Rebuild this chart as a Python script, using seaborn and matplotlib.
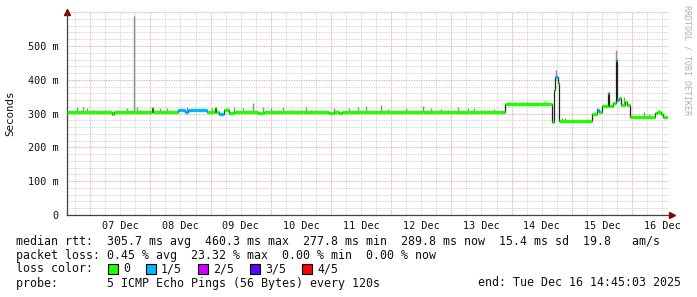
import numpy as np
import pandas as pd
import matplotlib
matplotlib.use("Agg")
import matplotlib.pyplot as plt
import matplotlib.dates as mdates
from matplotlib.ticker import MultipleLocator, FuncFormatter, NullFormatter
from matplotlib.patches import Rectangle
import seaborn as sns

# ---------------- data ----------------
start_time = "2025-12-06 14:45:03"
end_time = "2025-12-16 14:45:03"

# median rtt step breakpoints: hours since start, value in ms, loss colour index
median_hours = [0.0, 18.0, 18.8, 34.0, 34.4, 44.4, 47.2, 48.4, 56.0, 59.2, 59.6, 60.4,
                62.4, 64.4, 66.4, 76.0, 78.4, 104.4, 106.4, 108.4, 109.6, 174.5,
                193.2, 194.0, 194.4, 195.6, 196.2, 209.2, 211.2, 212.0, 213.2, 215.6,
                216.2, 217.6, 218.8, 219.4, 220.0, 220.8, 222.4, 223.2, 224.4, 234.4,
                235.2, 236.8, 237.6, 239.2]
median_ms = [304, 298, 304, 318, 304, 310, 306, 311, 304, 318, 304, 298,
             312, 301, 304, 302, 304, 301, 304, 301, 304, 328,
             276, 370, 409, 390, 278, 300, 312, 305, 322, 360,
             322, 330, 458, 340, 345, 325, 335, 325, 290, 302,
             306, 300, 289, 289]
loss_idx = [0, 0, 0, 0, 0, 1, 1, 1, 0, 0, 0, 1,
            0, 0, 0, 0, 0, 0, 0, 0, 0, 0,
            0, 0, 1, 0, 0, 0, 1, 0, 0, 0,
            0, 0, 0, 1, 0, 0, 0, 0, 0, 0,
            0, 0, 0, 0]

# smoke (max of pings) spikes: hours since start, top value in ms
smoke_hours = [4.0, 6.4, 8.0, 10.4, 12.4, 15.2, 24.0, 26.8, 28.0, 29.2, 36.0, 37.2, 40.0,
               48.0, 49.2, 58.0, 64.0, 66.4, 70.0, 74.0, 78.0, 81.2, 86.0, 89.2, 95.2,
               97.2, 106.4, 112.4, 116.0, 119.2, 125.2, 128.0, 135.2, 142.0, 145.2, 149.2,
               152.0, 156.0, 160.0, 162.4, 166.4, 170.4, 176.4, 178.4, 181.2, 183.2, 184.4,
               190.4, 194.8, 197.2, 198.4, 211.2, 216.0, 218.8, 222.0, 230.0, 232.0, 236.0]
smoke_ms = [319, 319, 316, 310, 309, 312, 316, 590, 320, 310, 312, 316, 316,
            319, 312, 316, 316, 319, 316, 331, 319, 316, 320, 312, 319,
            312, 316, 316, 320, 322, 325, 313, 316, 322, 316, 313,
            312, 319, 316, 316, 312, 313, 335, 335, 333, 335, 332,
            337, 429, 287, 287, 317, 362, 488, 350, 304, 300, 310]

loss_labels = ["0", "1/5", "2/5", "3/5", "4/5"]
loss_colors = ["#20ff00", "#00b8ff", "#d000ff", "#5e00ff", "#ff0000"]

stats_line1 = "median rtt:  305.7 ms avg  460.3 ms max  277.8 ms min  289.8 ms now  15.4 ms sd  19.8   am/s"
stats_line2 = "packet loss: 0.45 % avg  23.32 % max  0.00 % min  0.00 % now"
probe_line = "probe:       5 ICMP Echo Pings (56 Bytes) every 120s"
end_line = "end: Tue Dec 16 14:45:03 2025"

# ---------------- figure ----------------
sns.set_style("white")
plt.rcParams["font.family"] = ["DejaVu Sans Mono", "DejaVu Sans"]

W, H = 697, 297
fig = plt.figure(figsize=(W / 100, H / 100), dpi=100)
ax = fig.add_axes([67 / W, 1 - 215 / H, (669 - 67) / W, (215 - 12.2) / H])

t0 = pd.Timestamp(start_time)
t_end = pd.Timestamp(end_time)
med_t = t0 + pd.to_timedelta(median_hours, unit="h")
med_v = np.array(median_ms) / 1000.0
df = pd.DataFrame({"time": med_t, "rtt": med_v})

# smoke
sm_t = t0 + pd.to_timedelta(smoke_hours, unit="h")
idx = np.searchsorted(np.array(median_hours), np.array(smoke_hours), side="right") - 1
base = med_v[idx]
ax.vlines(sm_t, base, np.array(smoke_ms) / 1000.0, color="#8c8c8c", lw=1.0, zorder=2)

# thin dark median step line
sns.lineplot(data=df, x="time", y="rtt", estimator=None, drawstyle="steps-post",
             color="#202020", lw=0.9, ax=ax, zorder=3)
# coloured median segments by loss
for i in range(len(med_t) - 1):
    ax.hlines(med_v[i], med_t[i], med_t[i + 1], color=loss_colors[loss_idx[i]],
              lw=2.4, zorder=4)

ax.set_xlim(t0, t_end)
ax.set_ylim(0, 0.6)

# grid & ticks
ax.xaxis.set_major_locator(mdates.DayLocator())
ax.xaxis.set_major_formatter(NullFormatter())
ax.xaxis.set_minor_locator(mdates.HourLocator(byhour=[0, 6, 12, 18]))


def xfmt(x, pos):
    d = mdates.num2date(x)
    return d.strftime("%d %b") if d.hour == 12 else ""


def yfmt(v, pos):
    if abs(v) < 1e-9:
        return "0"
    if v > 0.55:
        return ""
    return f"{int(round(v * 1000))} m"


ax.xaxis.set_minor_formatter(FuncFormatter(xfmt))
ax.yaxis.set_major_locator(MultipleLocator(0.1))
ax.yaxis.set_minor_locator(MultipleLocator(0.02))
ax.yaxis.set_major_formatter(FuncFormatter(yfmt))

ax.grid(which="minor", color="#c8c8c8", ls=(0, (1, 1)), lw=0.6)
ax.grid(which="major", color="#e89090", ls=(0, (1, 1)), lw=0.6)
ax.set_axisbelow(True)

ax.tick_params(axis="x", which="major", length=2, color="#404040", direction="out")
ax.tick_params(axis="x", which="minor", length=0, pad=4, labelsize=7.3, labelcolor="#111111")
ax.tick_params(axis="y", which="both", length=0, pad=6, labelsize=7.3, labelcolor="#111111")
ax.set_xlabel("")
ax.set_ylabel("")

for s in ["top", "right"]:
    ax.spines[s].set_visible(False)
for s in ["left", "bottom"]:
    ax.spines[s].set_color("#404040")
    ax.spines[s].set_linewidth(0.9)
ax.spines["left"].set_bounds(0, 0.6)
ax.plot([0], [1.0], marker="^", color="#8b0000", ms=4, transform=ax.transAxes, clip_on=False)
ax.plot([1.005], [0], marker=">", color="#8b0000", ms=4, transform=ax.transAxes, clip_on=False)
ax.patch.set_alpha(0)

# y label and watermark
fig.text(10 / W, 1 - 113 / H, "Seconds", rotation=90, ha="center", va="center", fontsize=7.8,
         color="#111111")
fig.text(687 / W, 1 - 5 / H, "RRDTOOL / TOBI OETIKER", rotation=270, ha="center", va="top",
         fontsize=6, color="#b0b0b0")

# legend text rows
fs = 8.4
cw = 7.0
x0 = 16
fig.text(x0 / W, 1 - 241 / H, stats_line1, ha="left", va="center", fontsize=fs, color="#111111")
fig.text(x0 / W, 1 - 255 / H, stats_line2, ha="left", va="center", fontsize=fs, color="#111111")
fig.text(x0 / W, 1 - 269 / H, "loss color:", ha="left", va="center", fontsize=fs, color="#111111")
fig.text(x0 / W, 1 - 283 / H, probe_line, ha="left", va="center", fontsize=fs, color="#111111")
fig.text(681 / W, 1 - 283 / H, end_line, ha="right", va="center", fontsize=fs, color="#111111")

bx = 108
for lab, col in zip(loss_labels, loss_colors):
    fig.patches.append(Rectangle((bx / W, 1 - 274 / H), 10 / W, 10 / H, transform=fig.transFigure,
                                 facecolor=col, edgecolor="black", lw=0.8))
    fig.text((bx + 15) / W, 1 - 269 / H, lab, ha="left", va="center", fontsize=fs, color="#111111")
    bx = bx + 15 + len(lab) * cw + 16

fig.savefig("out.png", dpi=100)
